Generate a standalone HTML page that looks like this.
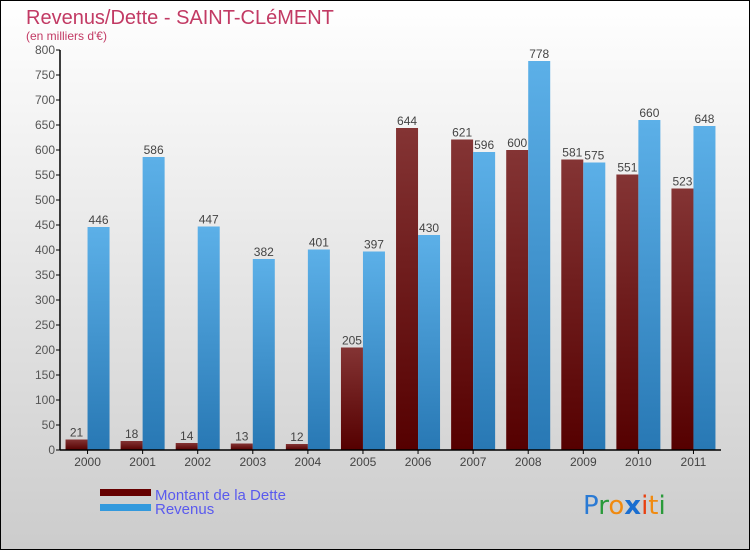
<!DOCTYPE html>
<html><head><meta charset="utf-8"><style>
html,body{margin:0;padding:0}
body{width:750px;height:550px;overflow:hidden;font-family:"Liberation Sans",sans-serif}
</style></head><body>
<svg width="750" height="550" xmlns="http://www.w3.org/2000/svg" font-family="'Liberation Sans',sans-serif">
<defs>
<linearGradient id="bg" x1="0" y1="0" x2="0" y2="1"><stop offset="0" stop-color="#ffffff"/><stop offset="1" stop-color="#cccccc"/></linearGradient>
<linearGradient id="gd" x1="0" y1="0" x2="0" y2="1"><stop offset="0" stop-color="#843434"/><stop offset="1" stop-color="#550000"/></linearGradient>
<linearGradient id="gr" x1="0" y1="0" x2="0" y2="1"><stop offset="0" stop-color="#5cb0e8"/><stop offset="1" stop-color="#2878b4"/></linearGradient>
</defs>
<rect x="0.5" y="0.5" width="749" height="549" fill="url(#bg)" stroke="#000"/>
<text x="26" y="24" font-size="20" fill="#c23a64">Revenus/Dette - SAINT-CLéMENT</text>
<text x="26" y="40" font-size="12" fill="#c23a64">(en milliers d'€)</text>
<g id="plot"></g>
<g>
<rect x="100" y="489" width="51" height="7" fill="#660000"/>
<text x="155" y="500" font-size="15" fill="#5a5aee">Montant de la Dette</text>
<rect x="100" y="504" width="51" height="7" fill="#3399dd"/>
<text x="155" y="514" font-size="15" fill="#5a5aee">Revenus</text>
</g>
<g font-size="26" font-family="'DejaVu Sans',sans-serif">
<text x="583" y="514"><tspan fill="#2a7ad4">P</tspan><tspan fill="#2a9a3a">r</tspan><tspan fill="#f08a10">o</tspan><tspan fill="#1a6ed0" font-weight="bold">x</tspan><tspan fill="#e84010">i</tspan><tspan fill="#f08a10">t</tspan><tspan fill="#2a9a3a">i</tspan></text>
</g>
</svg>
<script>
const years=["2000","2001","2002","2003","2004","2005","2006","2007","2008","2009","2010","2011"];
const dette=[21,18,14,13,12,205,644,621,600,581,551,523];
const revenus=[446,586,447,382,401,397,430,596,778,575,660,648];
const yTicks=[0,50,100,150,200,250,300,350,400,450,500,550,600,650,700,750,800];
const NS="http://www.w3.org/2000/svg";
const g=document.getElementById('plot');
const x0=60,x1=721,yBase=450,yTop=50,yMax=800;
const bw=(x1-x0)/years.length;
function y(v){return yBase-(v/yMax)*(yBase-yTop);}
function cx(i){return x0+bw*(i+0.5);}
function mk(tag,attrs){const e=document.createElementNS(NS,tag);for(const k in attrs)e.setAttribute(k,attrs[k]);g.appendChild(e);return e;}
yTicks.forEach(t=>{
 const l=mk('line',{x1:x0-4,x2:x0,y1:y(t),y2:y(t),stroke:'#000'});
 
 
 const tx=mk('text',{x:x0-5,y:y(t)+4,'text-anchor':'end','font-size':12,fill:'#555'});
 tx.textContent=t;
 
 
});
years.forEach((yr,i)=>{
 const c=cx(i);
 const d=mk('rect',{x:c-22,y:y(dette[i]),width:22,height:yBase-y(dette[i]),fill:'url(#gd)'});
 
 
 const r=mk('rect',{x:c,y:y(revenus[i]),width:22,height:yBase-y(revenus[i]),fill:'url(#gr)'});
 
 
 const dl=mk('text',{x:c-11,y:y(dette[i])-3,'text-anchor':'middle','font-size':12,fill:'#444'});
 dl.textContent=dette[i];
 
 
 const rl=mk('text',{x:c+11,y:y(revenus[i])-3,'text-anchor':'middle','font-size':12,fill:'#444'});
 rl.textContent=revenus[i];
 
 
 const tk=mk('line',{x1:c,x2:c,y1:yBase,y2:yBase+4,stroke:'#000'});
 
 
 const xl=mk('text',{x:c,y:yBase+16,'text-anchor':'middle','font-size':12,fill:'#444'});
 xl.textContent=yr;
 
 
});
const ya=mk('line',{x1:x0,x2:x0,y1:yTop,y2:yBase,stroke:'#000','stroke-width':1.5});


const xa=mk('line',{x1:x0,x2:x1,y1:yBase,y2:yBase,stroke:'#000','stroke-width':1.5});


</script>
</body></html>
